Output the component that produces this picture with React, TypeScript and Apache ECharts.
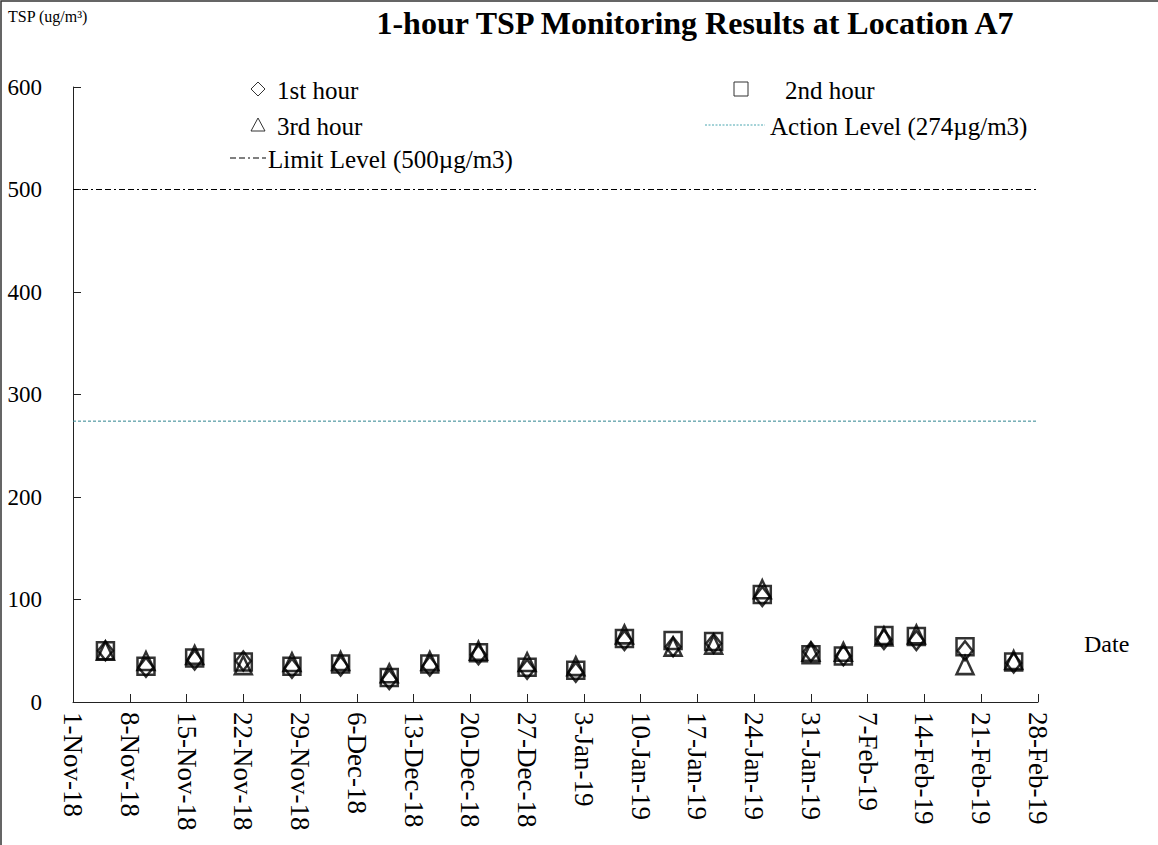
import React, { useEffect, useRef } from "react";
import * as echarts from "echarts";

const sampleDates = [
  "2018-11-05", "2018-11-10", "2018-11-16", "2018-11-22", "2018-11-28",
  "2018-12-04", "2018-12-10", "2018-12-15", "2018-12-21", "2018-12-27",
  "2019-01-02", "2019-01-08", "2019-01-14", "2019-01-19", "2019-01-25",
  "2019-01-31", "2019-02-04", "2019-02-09", "2019-02-13", "2019-02-19",
  "2019-02-25",
];
const firstHour = [50, 34, 41, 40, 33, 35, 22, 35, 46, 32, 29, 60, 54, 57, 103, 49, 45, 61, 60, 50, 38];
const secondHour = [50, 35, 43, 39, 35, 37, 24, 37, 48, 34, 31, 62, 60, 59, 105, 46, 45, 65, 64, 54, 39];
const thirdHour = [50, 40, 46, 36, 39, 40, 28, 40, 50, 39, 35, 66, 54, 56, 110, 49, 49, 64, 66, 36, 41];

const xTickLabels = [
  "1-Nov-18", "8-Nov-18", "15-Nov-18", "22-Nov-18", "29-Nov-18", "6-Dec-18",
  "13-Dec-18", "20-Dec-18", "27-Dec-18", "3-Jan-19", "10-Jan-19", "17-Jan-19",
  "24-Jan-19", "31-Jan-19", "7-Feb-19", "14-Feb-19", "21-Feb-19", "28-Feb-19",
];
const limitLevel = 500;
const actionLevel = 274;
const yMin = 0;
const yMax = 600;
const yStep = 100;

const START = Date.parse("2018-11-01");
const DAY = 86400000;
const toDay = (s: string) => (Date.parse(s) - START) / DAY;
const xMax = (xTickLabels.length - 1) * 7;

const FONT = "'Liberation Serif', 'Times New Roman', serif";
const LEG = 25;

export default function App() {
  const ref = useRef<HTMLDivElement>(null);
  useEffect(() => {
    if (!ref.current) return;
    const chart = echarts.init(ref.current, null, { renderer: "svg" });
    const markerStyle = { color: "rgba(0,0,0,0)", borderColor: "#000", borderWidth: 2.5 };
    const mk = (vals: number[]) => sampleDates.map((d, i) => [toDay(d), vals[i]]);
    const legText = (x: number, y: number, text: string) => ({
      type: "text", x, y,
      style: { text, fontFamily: FONT, fontSize: LEG, fill: "#000", verticalAlign: "middle" },
    });
    const option: any = {
      animation: false,
      backgroundColor: "#fff",
      textStyle: { fontFamily: FONT },
      title: {
        text: "1-hour TSP Monitoring Results at Location A7",
        left: 690,
        top: 2,
        textAlign: "center",
        textStyle: { fontFamily: FONT, fontWeight: "bold", fontSize: 32, color: "#000" },
      },
      grid: { left: 73, right: 120, top: 87, bottom: 143 },
      xAxis: {
        type: "value",
        min: 0,
        max: xMax,
        interval: 7,
        name: "Date",
        nameLocation: "end",
        nameGap: 46,
        nameTextStyle: {
          fontFamily: FONT, fontSize: 24, color: "#000",
          verticalAlign: "bottom", align: "left", padding: [0, 0, 46, 0],
        },
        splitLine: { show: false },
        axisLine: { show: true, lineStyle: { color: "#222", width: 1 } },
        axisTick: { show: true, inside: true, length: 8, lineStyle: { color: "#222" } },
        axisLabel: {
          rotate: -90,
          margin: 10,
          fontFamily: FONT,
          fontSize: 27,
          color: "#000",
          formatter: (v: number) => xTickLabels[Math.round(v / 7)] ?? "",
        },
      },
      yAxis: {
        type: "value",
        min: yMin,
        max: yMax,
        interval: yStep,
        splitLine: { show: false },
        axisLine: { show: true, lineStyle: { color: "#222", width: 1 } },
        axisTick: { show: true, inside: true, length: 8, lineStyle: { color: "#222" } },
        axisLabel: { margin: 31, fontFamily: FONT, fontSize: 23, color: "#000" },
      },
      series: [
        {
          name: "Limit Level (500µg/m3)",
          type: "line",
          data: [[0, limitLevel], [xMax, limitLevel]],
          symbol: "none",
          lineStyle: { color: "#000", width: 1, type: [6, 3, 6, 3, 2, 3] },
          silent: true,
        },
        {
          name: "Action Level (274µg/m3)",
          type: "line",
          data: [[0, actionLevel], [xMax, actionLevel]],
          symbol: "none",
          lineStyle: { color: "#2f8590", width: 1, type: [3, 2] },
          silent: true,
        },
        {
          name: "1st hour", type: "scatter", data: mk(firstHour),
          symbol: "diamond", symbolSize: [15, 19], itemStyle: markerStyle,
        },
        {
          name: "2nd hour", type: "scatter", data: mk(secondHour),
          symbol: "rect", symbolSize: 17, itemStyle: markerStyle,
        },
        {
          name: "3rd hour", type: "scatter", data: mk(thirdHour),
          symbol: "triangle", symbolSize: [17, 18], itemStyle: markerStyle,
        },
      ],
      graphic: [
        {
          type: "polyline",
          shape: { points: [[1, 845], [1, 1], [1158, 1]] },
          style: { stroke: "#333", lineWidth: 1.5, fill: null },
          silent: true,
        },
        {
          type: "text", left: 8, top: 8,
          style: { text: "TSP (ug/m³)", fontFamily: FONT, fontSize: 16, fill: "#000" },
        },
        {
          type: "polygon",
          shape: { points: [[258, 82], [265, 89], [258, 96], [251, 89]] },
          style: { stroke: "#333", lineWidth: 1, fill: null },
        },
        legText(277, 90, "1st hour"),
        {
          type: "polygon",
          shape: { points: [[258, 118], [265, 131], [251, 131]] },
          style: { stroke: "#333", lineWidth: 1, fill: null },
        },
        legText(277, 126, "3rd hour"),
        {
          type: "line",
          shape: { x1: 230, y1: 158, x2: 266, y2: 158 },
          style: { stroke: "#000", lineWidth: 1, lineDash: [6, 3, 6, 3, 2, 3] },
        },
        legText(268, 159, "Limit Level (500µg/m3)"),
        {
          type: "rect",
          shape: { x: 734, y: 82, width: 14, height: 14 },
          style: { stroke: "#333", lineWidth: 1, fill: null },
        },
        legText(785, 90, "2nd hour"),
        {
          type: "line",
          shape: { x1: 705, y1: 125, x2: 765, y2: 125 },
          style: { stroke: "#4aa6b0", lineWidth: 1, lineDash: [2, 1.5] },
        },
        legText(770, 126, "Action Level (274µg/m3)"),
      ],
    };
    chart.setOption(option);
    return () => chart.dispose();
  }, []);
  return (
    <div
      ref={ref}
      style={{ position: "absolute", left: 0, top: 0, width: 1158, height: 845, background: "#fff" }}
    />
  );
}
